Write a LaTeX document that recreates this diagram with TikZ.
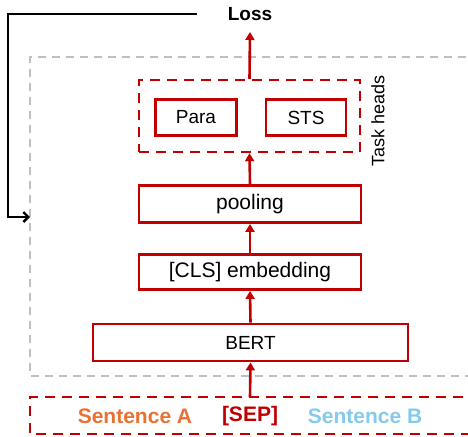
\documentclass[tikz,border=0pt]{standalone}
\usepackage{fontspec}
\setmainfont{Liberation Sans}
\usetikzlibrary{arrows.meta,positioning}
\definecolor{myred}{HTML}{C00000}
\definecolor{myorange}{HTML}{E97132}
\definecolor{myblue}{HTML}{83CAEB}
\definecolor{mygray}{HTML}{BFBFBF}
\tikzset{
  redbox/.style={draw=myred, line width=2.8pt, inner sep=0pt, font=\fontsize{19}{22}\selectfont, text=black},
  reddash/.style={draw=myred, line width=2.4pt, dash pattern=on 10pt off 7pt},
  graydash/.style={draw=mygray, line width=2.2pt, dash pattern=on 8pt off 6pt},
  redarrow/.style={draw=myred, line width=2.6pt, -{Triangle[length=8pt,width=9pt]}},
  blackarrow/.style={draw=black, line width=2.8pt, -{Straight Barb[length=5pt,width=10pt,line width=2.4pt]}},
}
\begin{document}
\begin{tikzpicture}[x=1pt,y=-1pt]
\useasboundingbox (0,0) rectangle (468,436);
% gray outer dashed box (extends past right edge)
\draw[graydash] (480,57) -- (30,57) -- (30,376) -- (480,376);
\coordinate (grayW) at (30,217);
% input box
\draw[reddash] (480,397) -- (30,397) -- (30,434) -- (480,434);
\coordinate (inTop) at (250,397);
\node[font=\bfseries\fontsize{21}{24}\selectfont, text=myorange] (sa) at (135,416) {Sentence A};
\node[font=\bfseries\fontsize{21}{24}\selectfont, text=myred] (sep) at (250,416) {[SEP]};
\node[font=\bfseries\fontsize{21}{24}\selectfont, text=myblue] (sb) at (365,416) {Sentence B};
% BERT
\node[redbox, minimum width=315pt, minimum height=37pt] (bert) at (250.5,342.5) {BERT};
\node[redbox, minimum width=222pt, minimum height=35pt, font=\fontsize{21}{24}\selectfont] (cls) at (250,272) {[CLS] embedding};
\node[redbox, minimum width=222pt, minimum height=37pt, font=\fontsize{21}{24}\selectfont] (pool) at (250,204) {pooling};
% task heads
\node[reddash, minimum width=221pt, minimum height=72pt, inner sep=0pt] (th) at (249.5,116) {};
\node[redbox, minimum width=81pt, minimum height=36pt] (para) at (196,117.5) {Para};
\node[redbox, minimum width=80pt, minimum height=36pt] (sts) at (306,117.5) {STS};
\node[rotate=90, font=\fontsize{18}{21}\selectfont] (thlabel) at (378,121) {Task heads};
% loss
\node[font=\bfseries\fontsize{19}{22}\selectfont] (loss) at (250,14) {Loss};
\coordinate (lossIn) at (250,32);
\coordinate (fb) at (197,14);
% arrows
\draw[redarrow] (inTop) -- (bert.south);
\draw[redarrow] (bert.north) -- (cls.south);
\draw[redarrow] (cls.north) -- (pool.south);
\draw[redarrow] (pool.north) -- (th.south);
\draw[redarrow] (th.north) -- (lossIn);
\draw[blackarrow] (fb) -| (8,217) -- (grayW);
\end{tikzpicture}
\end{document}
